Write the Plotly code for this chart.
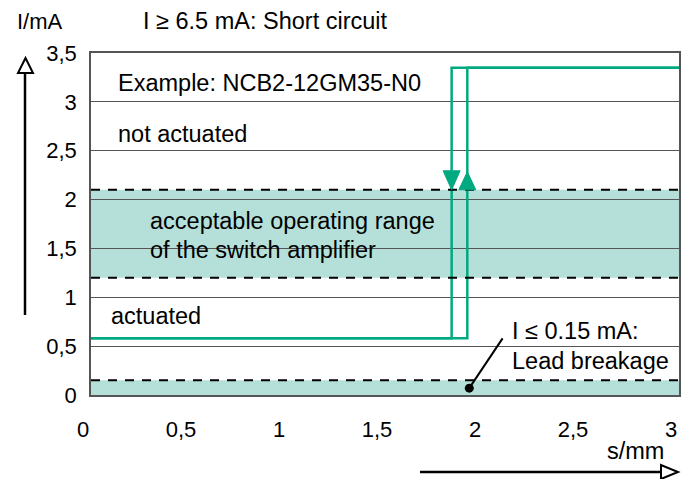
import plotly.graph_objects as go

# ---- data ----
x_ticks = [0, 0.5, 1, 1.5, 2, 2.5, 3]
x_ticktext = ["0", "0,5", "1", "1,5", "2", "2,5", "3"]
y_ticks = [0, 0.5, 1, 1.5, 2, 2.5, 3, 3.5]
y_ticktext = ["0", "0,5", "1", "1,5", "2", "2,5", "3", "3,5"]

# switching curve (hysteresis), mm / mA
rise_x = [0, 1.92, 1.92, 3]
rise_y = [0.58, 0.58, 3.35, 3.35]
fall_x = [3, 1.84, 1.84, 0]
fall_y = [3.35, 3.35, 0.58, 0.58]

# ranges (mA)
operating_range = [1.2, 2.1]
lead_breakage_max = 0.15
marker_point = [1.93, 0.07]
leader_end = [2.1, 0.58]

GREEN = "#00A97F"
BAND = "#B5E0DA"
FONT = "Liberation Sans, Arial, sans-serif"

OFF = 8  # default page body margin
W, H = 694 - OFF, 479 - OFF
PL, PR, PT, PB = 91, 679, 53, 395  # plot area in page pixels


def px(x):
    return (x - PL) / (PR - PL)


def py(y):
    return (PB - y) / (PB - PT)


fig = go.Figure()
fig.add_trace(go.Scatter(x=rise_x, y=rise_y, mode="lines",
                         line=dict(color=GREEN, width=2.5), hoverinfo="skip"))
fig.add_trace(go.Scatter(x=fall_x, y=fall_y, mode="lines",
                         line=dict(color=GREEN, width=2.5), hoverinfo="skip"))
# leader line + dot
fig.add_trace(go.Scatter(x=[marker_point[0], leader_end[0]], y=[marker_point[1], leader_end[1]],
                         mode="lines", line=dict(color="black", width=2), hoverinfo="skip"))
fig.add_trace(go.Scatter(x=[marker_point[0]], y=[marker_point[1]], mode="markers",
                         marker=dict(color="black", size=9), hoverinfo="skip"))

shapes = []
# bands
shapes.append(dict(type="rect", xref="x", yref="y", x0=0, x1=3,
                   y0=operating_range[0], y1=operating_range[1],
                   fillcolor=BAND, line=dict(width=0), layer="below"))
shapes.append(dict(type="rect", xref="x", yref="y", x0=0, x1=3,
                   y0=0, y1=lead_breakage_max,
                   fillcolor=BAND, line=dict(width=0), layer="below"))
# dashed limits
for yv in [operating_range[1], operating_range[0], lead_breakage_max]:
    shapes.append(dict(type="line", xref="x", yref="y", x0=0, x1=3, y0=yv, y1=yv,
                       line=dict(color="black", width=2, dash="9px,8px"), layer="above"))
# green arrowheads on the switching lines
shapes.append(dict(type="path", xref="x", yref="y", xsizemode="pixel", ysizemode="pixel",
                   xanchor=fall_x[1], yanchor=operating_range[1],
                   path="M -8.5 19 L 8.5 19 L 0 0 Z",
                   fillcolor=GREEN, line=dict(color=GREEN, width=1)))
shapes.append(dict(type="path", xref="x", yref="y", xsizemode="pixel", ysizemode="pixel",
                   xanchor=rise_x[1], yanchor=operating_range[1],
                   path="M -8.5 0 L 8.5 0 L 0 18 Z",
                   fillcolor=GREEN, line=dict(color=GREEN, width=1)))
# hollow axis arrows outside the plot
shapes.append(dict(type="line", xref="paper", yref="paper",
                   x0=px(25), x1=px(25), y0=py(315), y1=py(73),
                   line=dict(color="black", width=2.5)))
shapes.append(dict(type="path", xref="paper", yref="paper",
                   path=f"M {px(18)} {py(73)} L {px(33)} {py(73)} L {px(25.5)} {py(58)} Z",
                   fillcolor="white", line=dict(color="black", width=2)))
shapes.append(dict(type="line", xref="paper", yref="paper",
                   x0=px(420), x1=px(662), y0=py(472), y1=py(472),
                   line=dict(color="black", width=2.5)))
shapes.append(dict(type="path", xref="paper", yref="paper",
                   path=f"M {px(661)} {py(465)} L {px(661)} {py(479)} L {px(678)} {py(472)} Z",
                   fillcolor="white", line=dict(color="black", width=2)))


def label(text, x, y, size=23.5):
    return dict(text=text, xref="paper", yref="paper", x=px(x), y=py(y),
                xanchor="left", yanchor="middle", showarrow=False,
                font=dict(family=FONT, size=size, color="black"))


annotations = [
    label("I/mA", 15, 21, 22),
    label("I ≥ 6.5 mA: Short circuit", 141, 21),
    label("Example: NCB2-12GM35-N0", 116, 83),
    label("not actuated", 116, 134),
    label("acceptable operating range", 148, 221),
    label("of the switch amplifier", 148, 250),
    label("actuated", 109, 316),
    label("I ≤ 0.15 mA:", 510, 331),
    label("Lead breakage", 510, 361),
    label("s/mm", 605, 451),
]

fig.update_layout(
    width=W, height=H,
    margin=dict(l=PL - OFF, r=W - (PR - OFF), t=PT - OFF, b=H - (PB - OFF), pad=0),
    paper_bgcolor="white", plot_bgcolor="white",
    showlegend=False,
    shapes=shapes, annotations=annotations,
    font=dict(family=FONT, size=22, color="black"),
)
fig.update_xaxes(range=[0, 3], tickvals=x_ticks, ticktext=x_ticktext,
                 showgrid=False, zeroline=False, showline=True, mirror=True,
                 linecolor="#555", linewidth=1.5, ticks="", ticklabelstandoff=14,
                 ticklabelshift=-8, fixedrange=True)
fig.update_yaxes(range=[0, 3.5], tickvals=y_ticks, ticktext=y_ticktext,
                 showgrid=True, gridcolor="#555", gridwidth=1, zeroline=False,
                 showline=True, mirror=True, linecolor="#555", linewidth=1.5,
                 ticks="", ticklabelstandoff=8, fixedrange=True)

fig.write_html("out.html", config={"displayModeBar": False})
